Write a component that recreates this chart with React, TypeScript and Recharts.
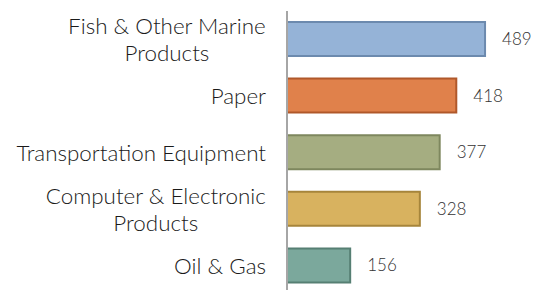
import { BarChart, Bar, XAxis, YAxis, Cell, LabelList } from 'recharts';

const categories = ['Fish & Other Marine Products', 'Paper', 'Transportation Equipment', 'Computer & Electronic Products', 'Oil & Gas'];
const tickLines: string[][] = [
    ['Fish & Other Marine', 'Products'],
    ['Paper'],
    ['Transportation Equipment'],
    ['Computer & Electronic', 'Products'],
    ['Oil & Gas'],
];
const values = [489, 418, 377, 328, 156];
const fills = ['#95B3D7', '#E0814B', '#A5AD81', '#D8B25F', '#7BA89C'];
const strokes = ['#6C8AAE', '#B0582A', '#7E875E', '#A6853B', '#567F73'];

const data = categories.map((name, i) => ({ name, value: values[i] }));

const FONT = 'Lato, "Open Sans", sans-serif';
const TICK_SIZE = 22.4;

let ctx: CanvasRenderingContext2D | null = null;
const measure = (s: string) => {
    if (!ctx) ctx = document.createElement('canvas').getContext('2d');
    if (!ctx) return s.length * 10;
    ctx.font = `300 ${TICK_SIZE}px Lato`;
    return ctx.measureText(s).width;
};

// multi-line label: lines centred on each other, block right-aligned to the axis
const CategoryTick = (props: any) => {
    const { x, y, payload } = props;
    const lines = tickLines[categories.indexOf(payload.value)] || [payload.value];
    const widest = Math.max(...lines.map(measure));
    const cx = x - widest / 2;
    const lh = 27;
    const startY = y - ((lines.length - 1) * lh) / 2;
    return (
        <text textAnchor="middle" fontFamily={FONT} fontSize={TICK_SIZE} fontWeight={300} fill="#1A1A1A">
            {lines.map((l, i) => (
                <tspan key={i} x={cx} y={startY + i * lh} dy="0.36em">{l}</tspan>
            ))}
        </text>
    );
};

export default function App() {
    return (
        <div style={{ position: 'absolute', left: 0, top: 0, width: 541, height: 290, overflow: 'hidden', background: '#fff' }}>
            <BarChart
                width={541}
                height={294}
                data={data}
                layout="vertical"
                margin={{ top: 11, right: 11, bottom: 0, left: 0 }}
            >
                <XAxis type="number" domain={[0, 600]} hide />
                <YAxis
                    type="category"
                    dataKey="name"
                    width={287}
                    tickLine={false}
                    axisLine={{ stroke: '#A6A6A6', strokeWidth: 2 }}
                    tickMargin={15}
                    tick={<CategoryTick />}
                    interval={0}
                />
                <Bar dataKey="value" barSize={34} strokeWidth={2} isAnimationActive={false}>
                    {data.map((d, i) => (
                        <Cell key={d.name} fill={fills[i]} stroke={strokes[i]} />
                    ))}
                    <LabelList dataKey="value" position="right" offset={17} fill="#333333" fontFamily={FONT} fontWeight={300} fontSize={17} />
                </Bar>
            </BarChart>
        </div>
    );
}
